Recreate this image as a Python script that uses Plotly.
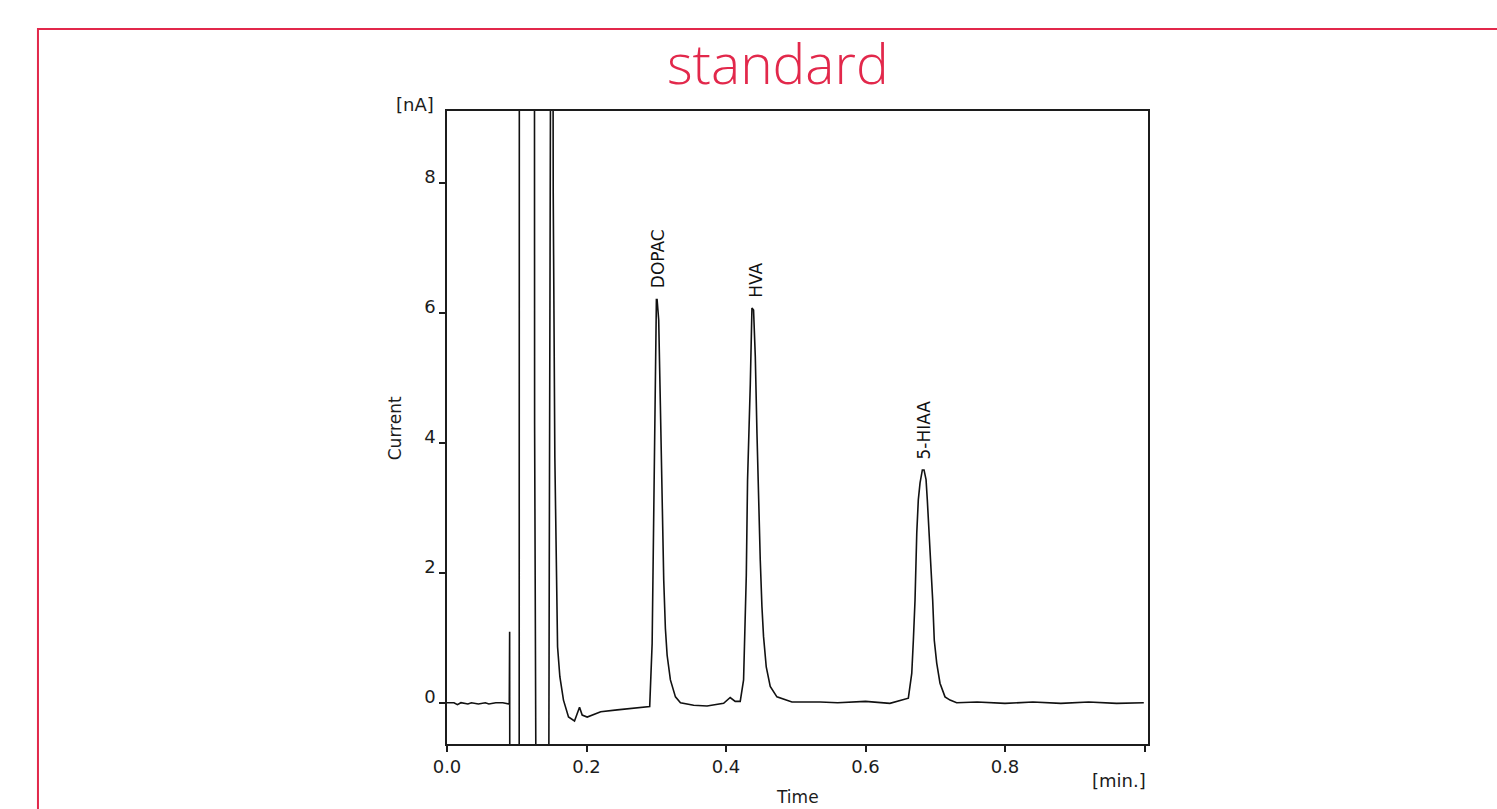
import plotly.graph_objects as go

# ---- data (time in min, current in nA) ----
time_min = [
    0.000, 0.010, 0.015, 0.020, 0.030, 0.035, 0.045, 0.055, 0.060, 0.070, 0.080, 0.0890,
    0.0893, 0.0896, 0.0898, 0.0900,
    0.1035, 0.1037,
    0.1254, 0.1256, 0.1274,
    0.1460, 0.1466, 0.1485,
    0.1520, 0.1523, 0.1546, 0.1570, 0.1585, 0.1618, 0.1670, 0.1742, 0.1828, 0.1900,
    0.1938, 0.2010, 0.2204, 0.2440, 0.2673, 0.2888,
    0.2906, 0.2941, 0.2963, 0.2978, 0.3002, 0.3012, 0.3035, 0.3059, 0.3084, 0.3107,
    0.3131, 0.3156, 0.3203, 0.3275, 0.3347, 0.3536, 0.3728, 0.3966, 0.4060, 0.4132, 0.4204,
    0.4252, 0.4291, 0.4309, 0.4348, 0.4372, 0.4395, 0.4420, 0.4444, 0.4467, 0.4491,
    0.4515, 0.4538, 0.4577, 0.4634, 0.4730, 0.4945, 0.5350,
    0.5600, 0.6000, 0.6350, 0.6614,
    0.6663, 0.6686, 0.6710, 0.6735, 0.6757, 0.6782, 0.6815, 0.6839, 0.6868, 0.6886,
    0.6915, 0.6935, 0.6963, 0.6986, 0.7021, 0.7068, 0.7140, 0.7212, 0.7307,
    0.7600, 0.8000, 0.8400, 0.8800, 0.9200, 0.9600, 0.9990,
]
current_nA = [
    0.00, 0.00, -0.03, 0.00, -0.02, 0.00, -0.02, 0.00, -0.02, 0.00, 0.00, -0.02,
    0.00, 0.75, 1.09, -0.90,
    -0.90, 10.0,
    10.0, 4.30, -0.90,
    -0.90, 2.00, 10.0,
    10.0, 7.84, 3.78, 1.92, 0.86, 0.40, 0.04, -0.22, -0.28, -0.07,
    -0.19, -0.22, -0.14, -0.11, -0.08, -0.06,
    -0.06, 0.91, 2.71, 4.81, 6.20, 6.20, 5.89, 4.58, 3.07, 1.89,
    1.14, 0.73, 0.35, 0.09, 0.00, -0.04, -0.05, -0.01, 0.08, 0.02, 0.02,
    0.35, 1.96, 3.43, 4.89, 6.07, 6.04, 5.32, 4.14, 3.07, 2.20,
    1.48, 1.02, 0.55, 0.25, 0.09, 0.01, 0.01,
    0.00, 0.02, -0.01, 0.07,
    0.45, 0.96, 1.58, 2.61, 3.12, 3.38, 3.58, 3.58, 3.43, 3.12,
    2.61, 2.09, 1.58, 0.96, 0.61, 0.30, 0.09, 0.04, 0.00,
    0.01, -0.01, 0.01, -0.01, 0.01, -0.01, 0.00,
]

peak_names = ["DOPAC", "HVA", "5-HIAA"]
peak_times = [0.3016, 0.4420, 0.6840]
peak_heights = [6.22, 6.07, 3.58]

x_tick_vals = [0.0, 0.2, 0.4, 0.6, 0.8, 1.0]
x_tick_text = ["0.0", "0.2", "0.4", "0.6", "0.8", ""]
y_tick_vals = [0, 2, 4, 6, 8]
y_tick_text = ["0", "2", "4", "6", "8"]

RED = "#E2284B"
INK = "#1c1c1c"
FONT = "DejaVu Sans"

fig = go.Figure()
fig.add_trace(go.Scatter(
    x=time_min, y=current_nA, mode="lines",
    line=dict(color="#111111", width=1.6),
    showlegend=False, hoverinfo="skip",
))

annotations = []
for name, t, h in zip(peak_names, peak_times, peak_heights):
    annotations.append(dict(
        x=t, y=h, xref="x", yref="y", text=name, showarrow=False,
        textangle=-90, xanchor="center", yanchor="bottom", yshift=8,
        font=dict(family=FONT, size=17, color="#111111"),
    ))

annotations += [
    dict(x=0.472, y=1.076, xref="paper", yref="paper", text="standard",
         showarrow=False, xanchor="center", yanchor="middle",
         font=dict(family="Open Sans", size=55, color=RED, weight=300)),
    dict(x=-0.015, y=1.011, xref="paper", yref="paper", text="[nA]",
         showarrow=False, xanchor="right", yanchor="middle",
         font=dict(family=FONT, size=18, color=INK)),
    dict(x=0.958, y=-0.057, xref="paper", yref="paper", text="[min.]",
         showarrow=False, xanchor="center", yanchor="middle",
         font=dict(family=FONT, size=18, color=INK)),
    dict(x=0.5, y=-0.084, xref="paper", yref="paper", text="Time",
         showarrow=False, xanchor="center", yanchor="middle",
         font=dict(family=FONT, size=17, color=INK)),
    dict(x=-0.074, y=0.499, xref="paper", yref="paper", text="Current",
         showarrow=False, textangle=-90, xanchor="center", yanchor="middle",
         font=dict(family=FONT, size=17, color=INK)),
]

fig.update_layout(
    width=1497, height=809,
    margin=dict(l=447, r=349, t=111, b=65),
    paper_bgcolor="white", plot_bgcolor="white",
    annotations=annotations,
    shapes=[dict(type="rect", xref="paper", yref="paper",
                 x0=-0.5835, x1=1.52, y0=-0.12, y1=1.1295,
                 line=dict(color=RED, width=2), fillcolor="rgba(0,0,0,0)",
                 layer="below")],
)
fig.update_xaxes(
    range=[0.0, 1.005], tickvals=x_tick_vals, ticktext=x_tick_text,
    showgrid=False, zeroline=False, showline=True, mirror=True,
    linecolor=INK, linewidth=1.6, ticks="outside", ticklen=6, tickwidth=1.5,
    tickcolor=INK, tickfont=dict(family=FONT, size=18, color=INK),
)
fig.update_yaxes(
    range=[-0.635, 9.10], tickvals=y_tick_vals, ticktext=y_tick_text,
    showgrid=False, zeroline=False, showline=True, mirror=True,
    linecolor=INK, linewidth=1.6, ticks="outside", ticklen=6, tickwidth=1.5,
    tickcolor=INK, tickfont=dict(family=FONT, size=18, color=INK),
    ticklabelshift=-6, ticklabelstandoff=0,
)

fig.write_html("out.html")
